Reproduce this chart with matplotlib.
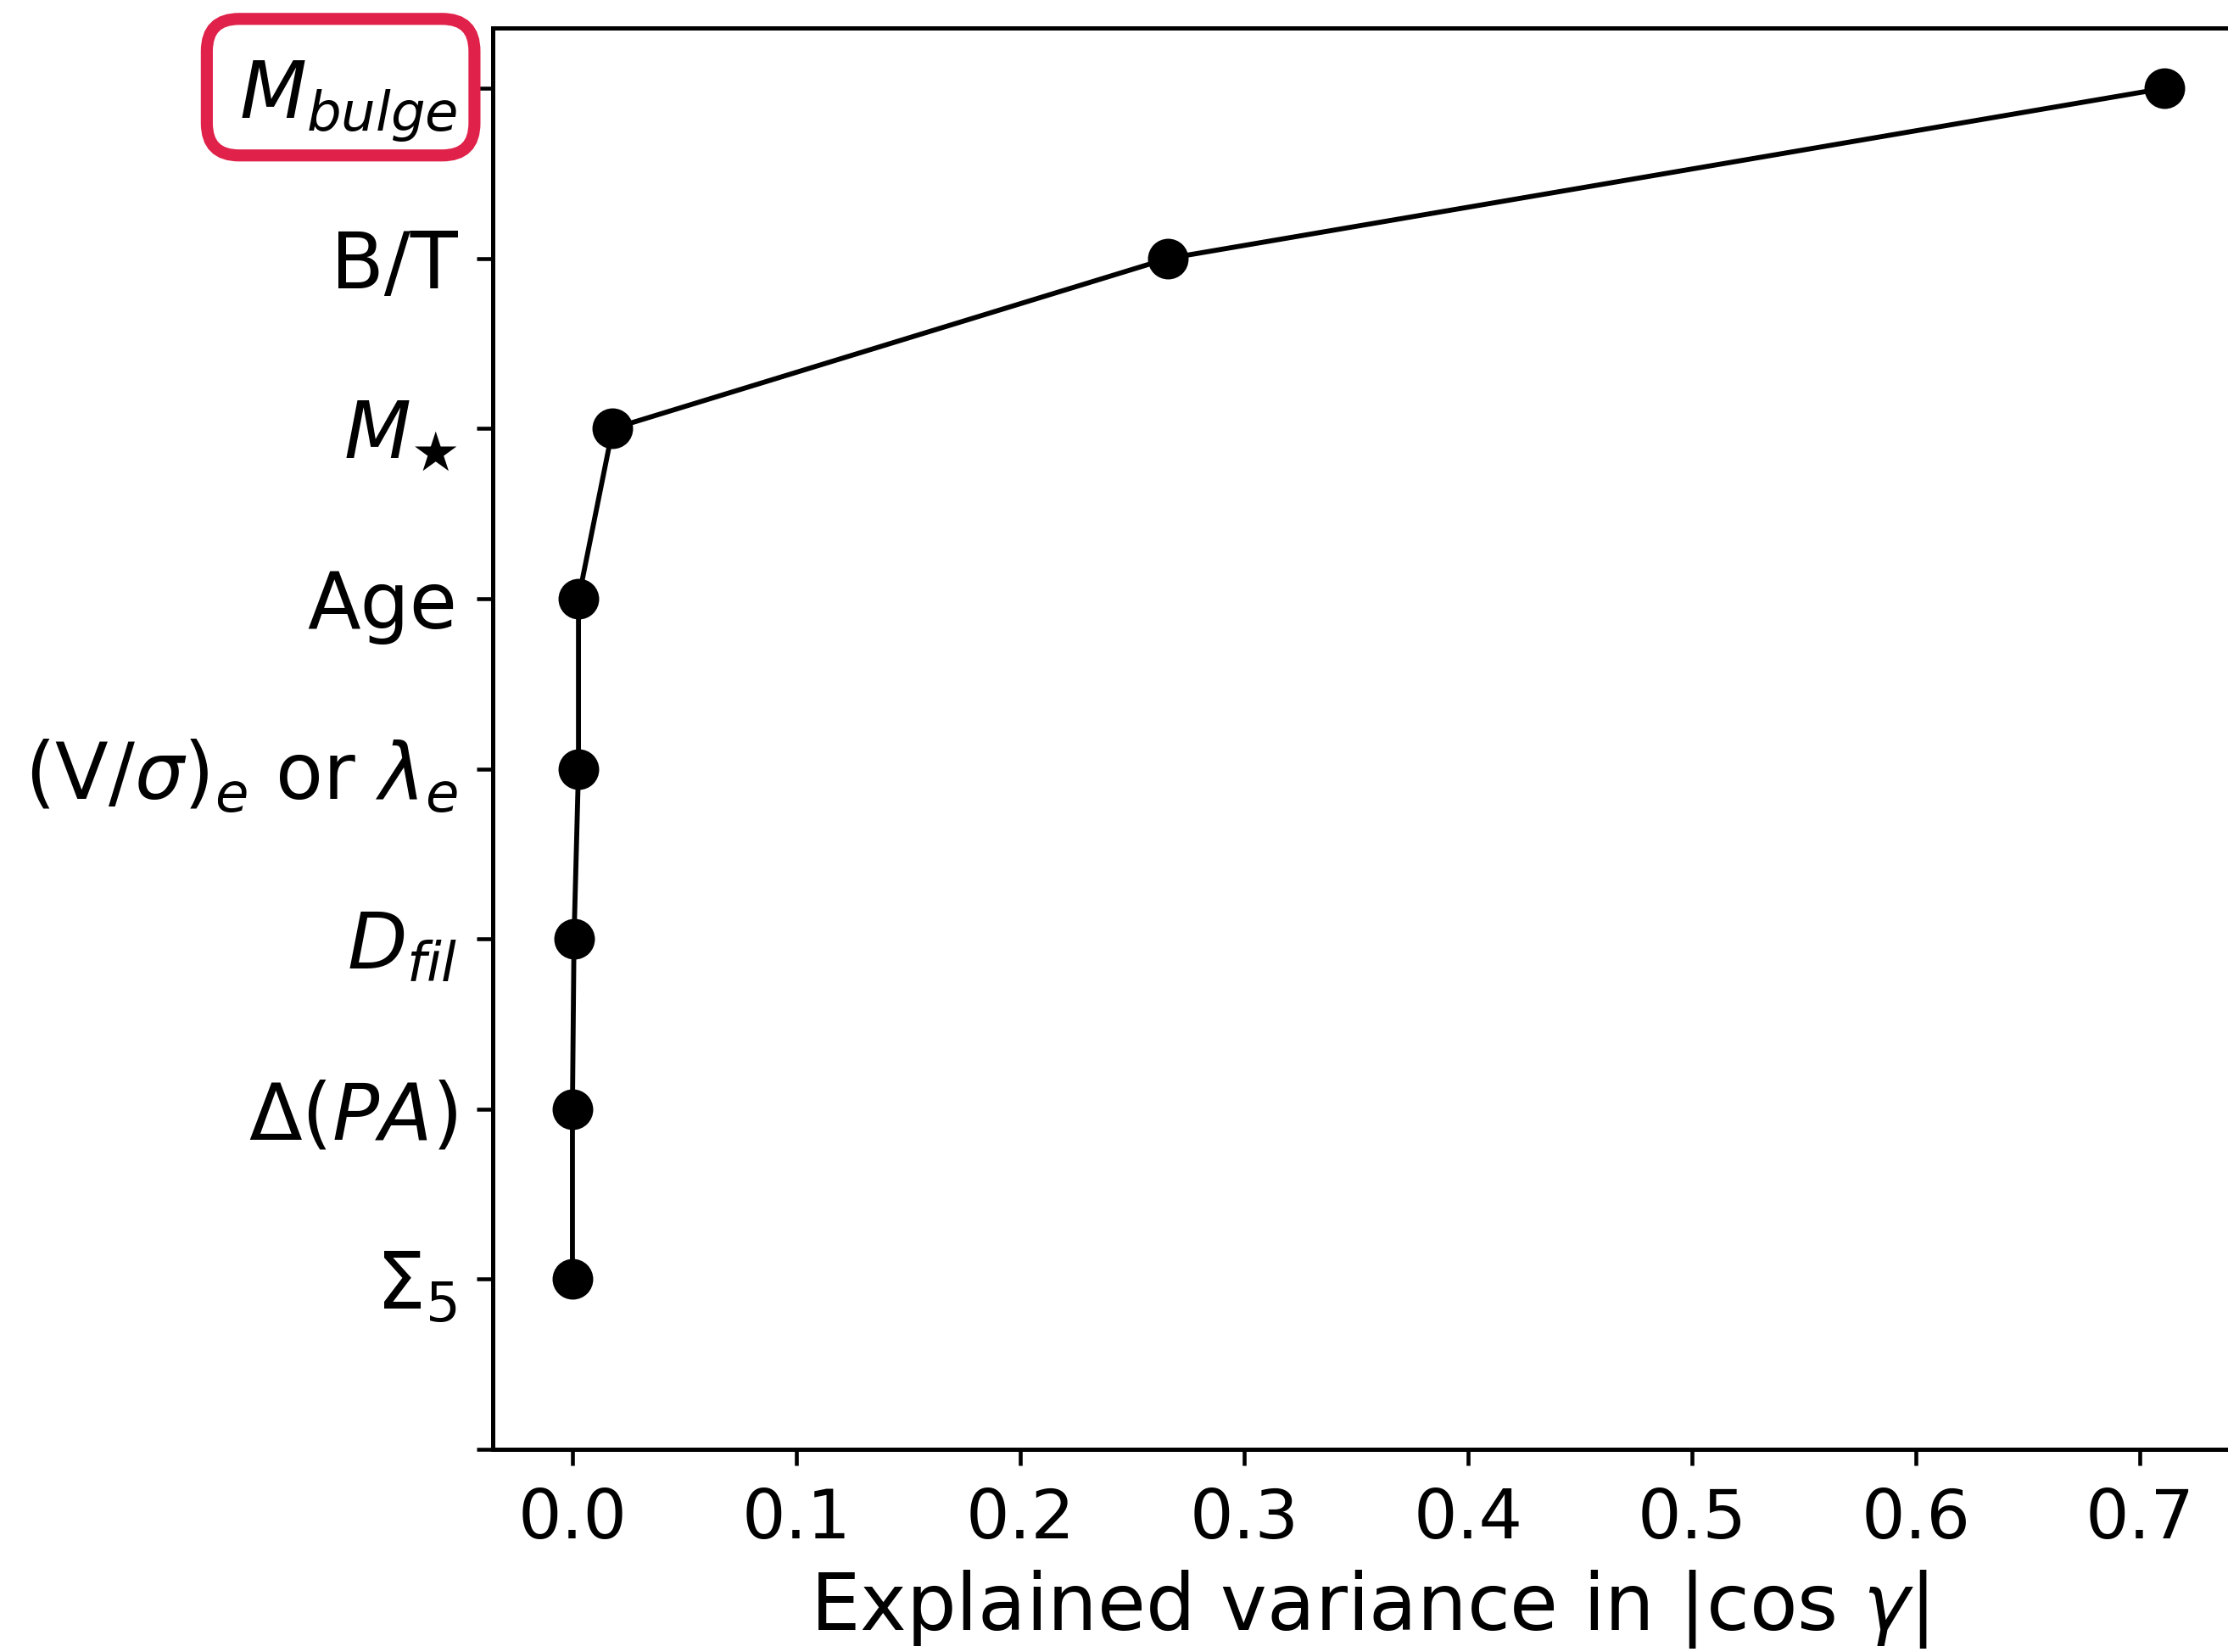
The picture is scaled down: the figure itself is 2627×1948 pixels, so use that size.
import matplotlib
matplotlib.use("Agg")
import matplotlib.pyplot as plt
from matplotlib.patches import FancyBboxPatch

# properties, bottom to top (first slot is an empty tick at the bottom)
labels = ['', r'$\Sigma_5$', r'$\Delta(PA)$', r'$D_{fil}$',
          r'(V/$\sigma)_e$ or $\lambda_e$', 'Age', r'$M_\bigstar$', 'B/T',
          r'$M_{bulge}$']
explained_var = [0.0, 0.0, 0.0007, 0.0027, 0.0027, 0.018, 0.266, 0.711]

fig = plt.figure(figsize=(2627 / 300, 1948 / 300), dpi=300)
ax = fig.add_axes([0.2212, 0.1227, 0.786, 0.8603])

ypos = list(range(1, len(explained_var) + 1))
ax.plot(explained_var, ypos, 'o-', color='black', lw=1.4, ms=10.5)

ax.set_ylim(0, 8.354)
ax.set_yticks(range(len(labels)))
ax.set_yticklabels(labels, fontsize=22)
ax.set_xticks([0.0, 0.1, 0.2, 0.3, 0.4, 0.5, 0.6, 0.7])
ax.tick_params(axis='x', labelsize=19.5, length=4.5, width=1.1, pad=6)
ax.tick_params(axis='y', length=4.5, width=1.1, pad=5.5)
ax.set_xlabel(r'Explained variance in $|\cos\,\gamma|$', fontsize=22.2, labelpad=4.5)
for s in ax.spines.values():
    s.set_linewidth(1.2)

# highlight box around the top label
fig.canvas.draw()
bb = ax.get_yticklabels()[-1].get_window_extent()
box = FancyBboxPatch((bb.x0 - 38, bb.y0 - 14), bb.width + 58, bb.height + 61,
                     boxstyle='round,pad=0,rounding_size=38', fc='none',
                     ec='#e0224a', lw=3.4, transform=None)
fig.patches.append(box)

fig.savefig('out.png', dpi=300)
